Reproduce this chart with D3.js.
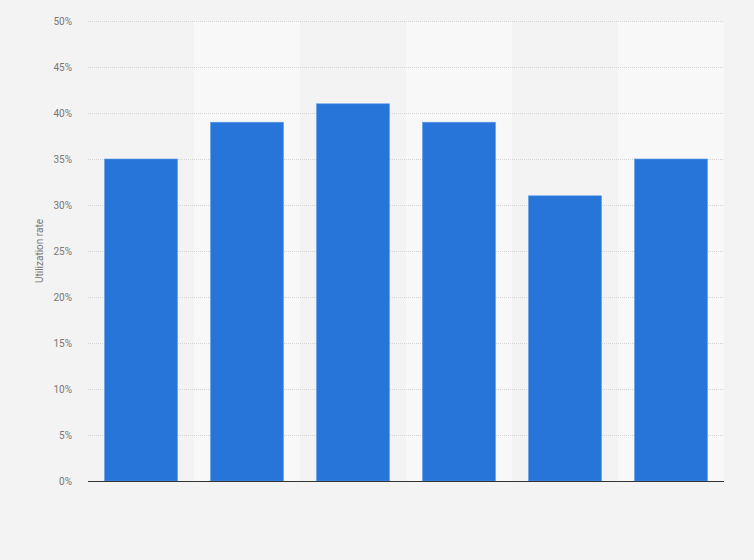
<!DOCTYPE html>
<html>
<head>
<meta charset="utf-8">
<script src="https://cdn.jsdelivr.net/npm/d3@7"></script>
<style>
  html, body { margin: 0; padding: 0; background: #f3f3f3; }
  svg { display: block; font-family: Roboto, "Open Sans", Arial, sans-serif; }
</style>
</head>
<body>
<svg id="chart" width="754" height="560"></svg>
<script>
// Data (x-axis categories are unlabeled in the reference)
const categories = ["c1", "c2", "c3", "c4", "c5", "c6"];
const values = [35, 39, 41, 39, 31, 35];
const yTicks = [0, 5, 10, 15, 20, 25, 30, 35, 40, 45, 50];
const yLabel = "Utilization rate";

const svg = d3.select("#chart");
const W = 754, H = 560;
const m = { left: 88, right: 30, top: 21, bottom: 79 };

svg.append("rect").attr("width", W).attr("height", H).attr("fill", "#f3f3f3");

const x = d3.scaleBand().domain(categories).range([m.left, W - m.right]).paddingInner(0).paddingOuter(0);
const y = d3.scaleLinear().domain([0, 50]).range([H - m.bottom, m.top]);

// alternating bands
svg.append("g").selectAll("rect").data(categories).join("rect")
  .attr("x", d => x(d))
  .attr("y", y(50))
  .attr("width", x.bandwidth())
  .attr("height", y(0) - y(50))
  .attr("fill", (d, i) => i % 2 === 1 ? "#f8f8f8" : "#f3f3f3");

// gridlines
svg.append("g").selectAll("line").data(yTicks.filter(t => t > 0)).join("line")
  .attr("x1", m.left).attr("x2", W - m.right)
  .attr("y1", d => y(d) + 0.5).attr("y2", d => y(d) + 0.5)
  .attr("stroke", "#d4d4d4").attr("stroke-width", 1)
  .attr("stroke-dasharray", "1,1");

// y axis labels
const yAxis = d3.axisLeft(y).tickValues(yTicks).tickFormat(d => d + "%").tickSize(0).tickPadding(0);
const ga = svg.append("g").attr("transform", `translate(${m.left - 16},0)`).call(yAxis);
ga.select(".domain").remove();
ga.selectAll("text").attr("fill", "#777").attr("font-size", 10).attr("font-family", "Roboto, Arial, sans-serif");

// y label
svg.append("text")
  .attr("transform", `translate(43,${(y(0) + y(50)) / 2}) rotate(-90)`)
  .attr("text-anchor", "middle")
  .attr("font-size", 10)
  .attr("fill", "#777")
  .text(yLabel);

// bars
const barW = 73;
svg.append("g").selectAll("rect").data(values).join("rect")
  .attr("x", (d, i) => x(categories[i]) + (x.bandwidth() - barW) / 2)
  .attr("y", d => y(d))
  .attr("width", barW)
  .attr("height", d => y(0) - y(d))
  .attr("fill", "#2775d9")
  .attr("stroke", "#5f9be6")
  .attr("stroke-width", 0.6);

// baseline
svg.append("line")
  .attr("x1", m.left).attr("x2", W - m.right)
  .attr("y1", y(0) + 0.5).attr("y2", y(0) + 0.5)
  .attr("stroke", "#333").attr("stroke-width", 1.2);
</script>
</body>
</html>
